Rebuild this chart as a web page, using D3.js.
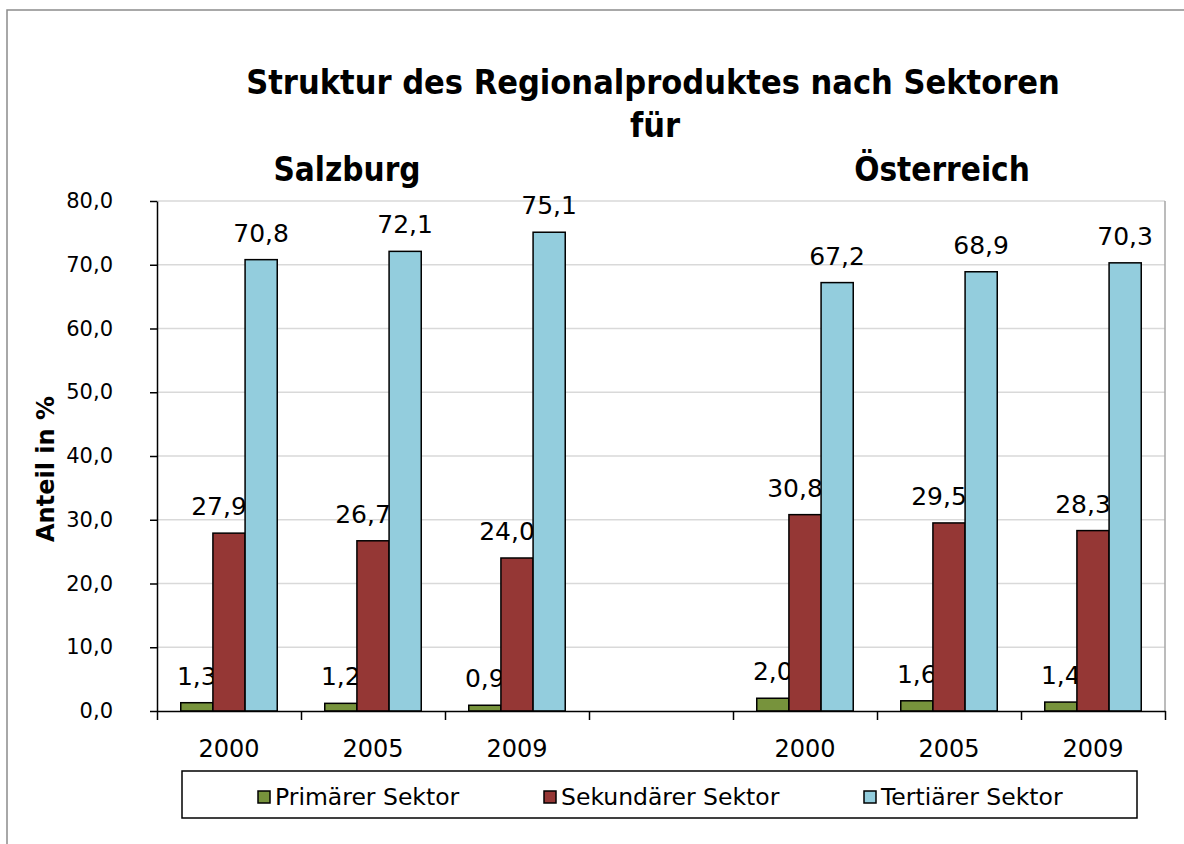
<!DOCTYPE html>
<html>
<head>
<meta charset="utf-8">
<script src="https://cdn.jsdelivr.net/npm/d3@7"></script>
<style>
  body { margin: 0; background: #fff; }
  text { font-family: "DejaVu Sans", sans-serif; fill: #000; }
</style>
</head>
<body>
<svg id="chart" width="1184" height="844"></svg>
<script>
// categories: 3 years Salzburg, an empty slot, 3 years Österreich
let slots = ['S2000', 'S2005', 'S2009', 'gap', 'A2000', 'A2005', 'A2009']
let slotLabels = ['2000', '2005', '2009', '', '2000', '2005', '2009']
let seriesNames = ['Primärer Sektor', 'Sekundärer Sektor', 'Tertiärer Sektor']
let primaer = [1.3, 1.2, 0.9, null, 2.0, 1.6, 1.4]
let sekundaer = [27.9, 26.7, 24.0, null, 30.8, 29.5, 28.3]
let tertiaer = [70.8, 72.1, 75.1, null, 67.2, 68.9, 70.3]
let yTicks = [0, 10, 20, 30, 40, 50, 60, 70, 80]

let seriesValues = [primaer, sekundaer, tertiaer]
let colors = ['#77933c', '#953735', '#93cddd']
let labelShift = [0, -10, 0] // labels of the middle series sit a bit to the left

let svg = d3.select('#chart')
let plotLeft = 157, plotRight = 1165, plotTop = 201, plotBottom = 711

// outer frame (only top and left edge are visible)
svg.append('path')
  .attr('d', 'M7,844 L7,10 L1184,10')
  .attr('fill', 'none')
  .attr('stroke', '#8c8c8c')
  .attr('stroke-width', 1.5)

let x0 = d3.scaleBand().domain(slots).range([plotLeft, plotRight]).padding(0)
let x1 = d3.scaleBand().domain(seriesNames)
  .range([x0.bandwidth() * 0.165, x0.bandwidth() * 0.835])
let xEdge = d3.scaleLinear().domain([0, slots.length]).range([plotLeft, plotRight])
let y = d3.scaleLinear().domain([0, 80]).range([plotBottom, plotTop])

let fmt = (d) => d3.format('.1f')(d).replace('.', ',')

// gridlines
svg.append('g').selectAll('line')
  .data(yTicks.slice(1))
  .enter()
  .append('line')
  .attr('x1', plotLeft).attr('x2', plotRight)
  .attr('y1', (d) => y(d)).attr('y2', (d) => y(d))
  .attr('stroke', '#d9d9d9')
  .attr('stroke-width', 1.5)

// right edge of plot area
svg.append('line')
  .attr('x1', plotRight).attr('x2', plotRight)
  .attr('y1', plotTop).attr('y2', plotBottom)
  .attr('stroke', '#a6a6a6')
  .attr('stroke-width', 1.5)

// bars and labels, series by series so the next bar covers the label
seriesNames.forEach((name, s) => {
  let rows = slots.map((slot, i) => ({ slot: slot, v: seriesValues[s][i] }))
    .filter((d) => d.v !== null)
  let g = svg.append('g')
  g.selectAll('rect')
    .data(rows)
    .enter()
    .append('rect')
    .attr('x', (d) => x0(d.slot) + x1(name))
    .attr('y', (d) => y(d.v))
    .attr('width', x1.bandwidth())
    .attr('height', (d) => y(0) - y(d.v))
    .attr('fill', colors[s])
    .attr('stroke', '#000')
    .attr('stroke-width', 1.5)
  g.selectAll('text')
    .data(rows)
    .enter()
    .append('text')
    .text((d) => fmt(d.v))
    .attr('x', (d) => x0(d.slot) + x1(name) + x1.bandwidth() / 2 + labelShift[s])
    .attr('y', (d) => y(d.v) - 18)
    .attr('text-anchor', 'middle')
    .style('font-size', '25px')
})

// y axis
let yAxis = svg.append('g')
  .attr('transform', 'translate(' + plotLeft + ',0)')
  .call(d3.axisLeft(y).tickValues(yTicks).tickFormat(fmt).tickSize(7).tickSizeOuter(0))
yAxis.select('.domain').attr('stroke', '#000').attr('stroke-width', 1.5)
yAxis.selectAll('.tick line').attr('stroke', '#000').attr('stroke-width', 1.5)
yAxis.selectAll('.tick text')
  .attr('x', -44)
  .style('font-size', '21px')
  .style('font-family', '"DejaVu Sans", sans-serif')

// x axis with ticks between categories
let xAxis = svg.append('g')
  .attr('transform', 'translate(0,' + plotBottom + ')')
  .call(d3.axisBottom(xEdge).tickValues(d3.range(0, slots.length + 1)).tickFormat('').tickSize(9).tickSizeOuter(0))
xAxis.select('.domain').attr('stroke', '#000').attr('stroke-width', 1.5)
xAxis.selectAll('.tick line').attr('stroke', '#000').attr('stroke-width', 1.5)

svg.append('g').selectAll('text')
  .data(slots)
  .enter()
  .append('text')
  .text((d, i) => slotLabels[i])
  .attr('x', (d) => x0(d) + x0.bandwidth() / 2)
  .attr('y', 757)
  .attr('text-anchor', 'middle')
  .style('font-size', '24px')

// y axis title
svg.append('text')
  .text('Anteil in %')
  .attr('transform', 'translate(54,469) rotate(-90)')
  .attr('text-anchor', 'middle')
  .style('font-size', '24px')
  .style('font-weight', 'bold')

// titles
let titleFont = '"DejaVu Sans Condensed", "DejaVu Sans", sans-serif'
svg.append('text').text('Struktur des Regionalproduktes nach Sektoren')
  .attr('x', 653).attr('y', 94).attr('text-anchor', 'middle')
  .style('font-family', titleFont).style('font-size', '34px').style('font-weight', 'bold')
svg.append('text').text('für')
  .attr('x', 655).attr('y', 137).attr('text-anchor', 'middle')
  .style('font-family', titleFont).style('font-size', '34px').style('font-weight', 'bold')
svg.append('text').text('Salzburg')
  .attr('x', 347).attr('y', 181).attr('text-anchor', 'middle')
  .style('font-family', titleFont).style('font-size', '33px').style('font-weight', 'bold')
svg.append('text').text('Österreich')
  .attr('x', 942).attr('y', 181).attr('text-anchor', 'middle')
  .style('font-family', titleFont).style('font-size', '33px').style('font-weight', 'bold')

// legend
svg.append('rect')
  .attr('x', 182).attr('y', 771).attr('width', 955).attr('height', 47)
  .attr('fill', '#fff').attr('stroke', '#000').attr('stroke-width', 1.5)
let legendX = [258, 544, 864]
let legend = svg.append('g').selectAll('g')
  .data(seriesNames)
  .enter()
  .append('g')
  .attr('transform', (d, i) => 'translate(' + legendX[i] + ',797)')
legend.append('rect')
  .attr('x', 0).attr('y', -6).attr('width', 12).attr('height', 12)
  .attr('fill', (d, i) => colors[i]).attr('stroke', '#000').attr('stroke-width', 1.5)
legend.append('text')
  .text((d) => d)
  .attr('x', 17).attr('y', 8)
  .style('font-size', '23.5px')
</script>
</body>
</html>
